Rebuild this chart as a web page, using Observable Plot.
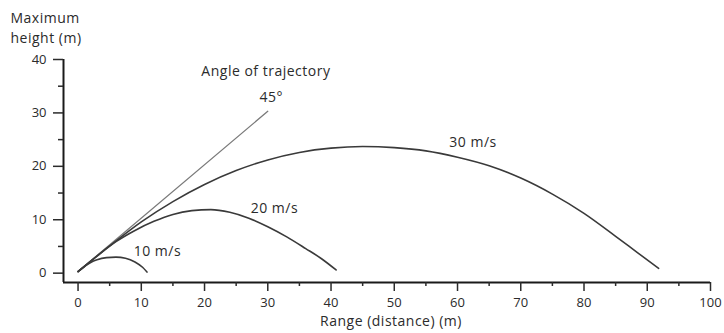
<!DOCTYPE html>
<html>
<head>
<meta charset="utf-8">
<script src="https://cdn.jsdelivr.net/npm/d3@7"></script>
<script src="https://cdn.jsdelivr.net/npm/@observablehq/plot@0.6"></script>
<style>
  body { margin: 0; background: #fff; }
  #chart { width: 724px; height: 333px; }
  #chart svg g[aria-label="text"] text { letter-spacing: 0.5px; }
</style>
</head>
<body>
<div id="chart"></div>
<script>
// ---- data ----
const xDomain = [-2.3, 100];
const yDomain = [-1.75, 40];

const xMajorTicks = [0, 10, 20, 30, 40, 50, 60, 70, 80, 90, 100];
const xMinorTicks = [5, 15, 25, 35, 45, 55, 65, 75, 85, 95];
const yMajorTicks = [0, 10, 20, 30, 40];
const yMinorTicks = [5, 15, 25, 35];

// 30 m/s trajectory
const range30  = [0, 5, 10, 15, 20, 25, 30, 35, 40, 45, 50, 55, 60, 65, 70, 75, 80, 85, 88.5, 91.8];
const height30 = [0.3, 5.1, 9.6, 13.4, 16.6, 19.2, 21.2, 22.6, 23.4, 23.7, 23.5, 22.9, 21.7, 20.1, 17.8, 14.8, 11.2, 6.9, 3.8, 0.9];
// 20 m/s trajectory
const range20  = [0, 3, 6, 9, 12, 15, 18, 21, 24, 27, 30, 33, 36, 38.5, 40.8];
const height20 = [0.3, 3.2, 5.9, 8.0, 9.7, 11.0, 11.7, 11.9, 11.4, 10.3, 8.7, 6.8, 4.6, 2.7, 0.6];
// 10 m/s trajectory
const range10  = [0, 1, 2, 3, 4.5, 6, 7.5, 9, 10.2, 10.9];
const height10 = [0.3, 1.2, 2.0, 2.5, 2.9, 3.0, 2.8, 2.1, 1.1, 0.2];
// 45 degree angle line
const range45  = [0, 30];
const height45 = [0.3, 30.3];

const labelText = ["Angle of trajectory", "45°", "30 m/s", "20 m/s", "10 m/s"];
const labelX    = [19.5, 28.7, 58.7, 27.3, 8.8];
const labelY    = [37.7, 32.8, 24.4, 12.1, 4.1];

const yTitle = "Maximum\nheight (m)";
const xTitle = "Range (distance) (m)";

// ---- build tables ----
const toRows = (xs, ys) => xs.map((x, i) => ({x, y: ys[i]}));
const curve30 = toRows(range30, height30);
const curve20 = toRows(range20, height20);
const curve10 = toRows(range10, height10);
const line45 = toRows(range45, height45);
const labels = labelText.map((t, i) => ({t, x: labelX[i], y: labelY[i]}));

const ink = "#2b2b2b";

const chart = Plot.plot({
  width: 724,
  height: 333,
  marginLeft: 63,
  marginRight: 14,
  marginTop: 59,
  marginBottom: 51,
  x: {domain: xDomain},
  y: {domain: yDomain},
  style: {fontFamily: "'Open Sans', sans-serif", color: ink, background: "#fff", overflow: "visible"},
  marks: [
    // axes lines
    Plot.ruleX([xDomain[0]], {y1: yDomain[0], y2: yDomain[1], stroke: "#1a1a1a", strokeWidth: 2}),
    Plot.ruleY([yDomain[0]], {x1: xDomain[0], x2: xDomain[1], stroke: "#1a1a1a", strokeWidth: 2}),
    // ticks
    Plot.axisY({ticks: yMajorTicks, tickSize: 10, tickPadding: 7, fontSize: 13, label: null, strokeWidth: 1.5}),
    Plot.axisY({ticks: yMinorTicks, tickSize: 5, text: null, label: null, strokeWidth: 1.5}),
    Plot.axisX({ticks: xMajorTicks, tickSize: 9, tickPadding: 6, fontSize: 13, label: null, strokeWidth: 1.5}),
    Plot.axisX({ticks: xMinorTicks, tickSize: 4, text: null, label: null, strokeWidth: 1.5}),
    // curves
    Plot.line(line45, {x: "x", y: "y", stroke: "#7a7a7a", strokeWidth: 1.3}),
    Plot.line(curve30, {x: "x", y: "y", stroke: "#3a3a3a", strokeWidth: 1.6, curve: "monotone-x"}),
    Plot.line(curve20, {x: "x", y: "y", stroke: "#3a3a3a", strokeWidth: 1.6, curve: "monotone-x"}),
    Plot.line(curve10, {x: "x", y: "y", stroke: "#3a3a3a", strokeWidth: 1.6, curve: "monotone-x"}),
    // annotations
    Plot.text(labels, {x: "x", y: "y", text: "t", textAnchor: "start", fontSize: 14, fill: ink}),
    Plot.text([yTitle], {frameAnchor: "top-left", dx: -53, dy: -50, textAnchor: "start", lineAnchor: "top", lineHeight: 1.4, fontSize: 14, fill: ink}),
    Plot.text([xTitle], {frameAnchor: "bottom", dx: 4, dy: 43, fontSize: 14, fill: ink})
  ]
});
document.getElementById("chart").appendChild(chart);
</script>
</body>
</html>
